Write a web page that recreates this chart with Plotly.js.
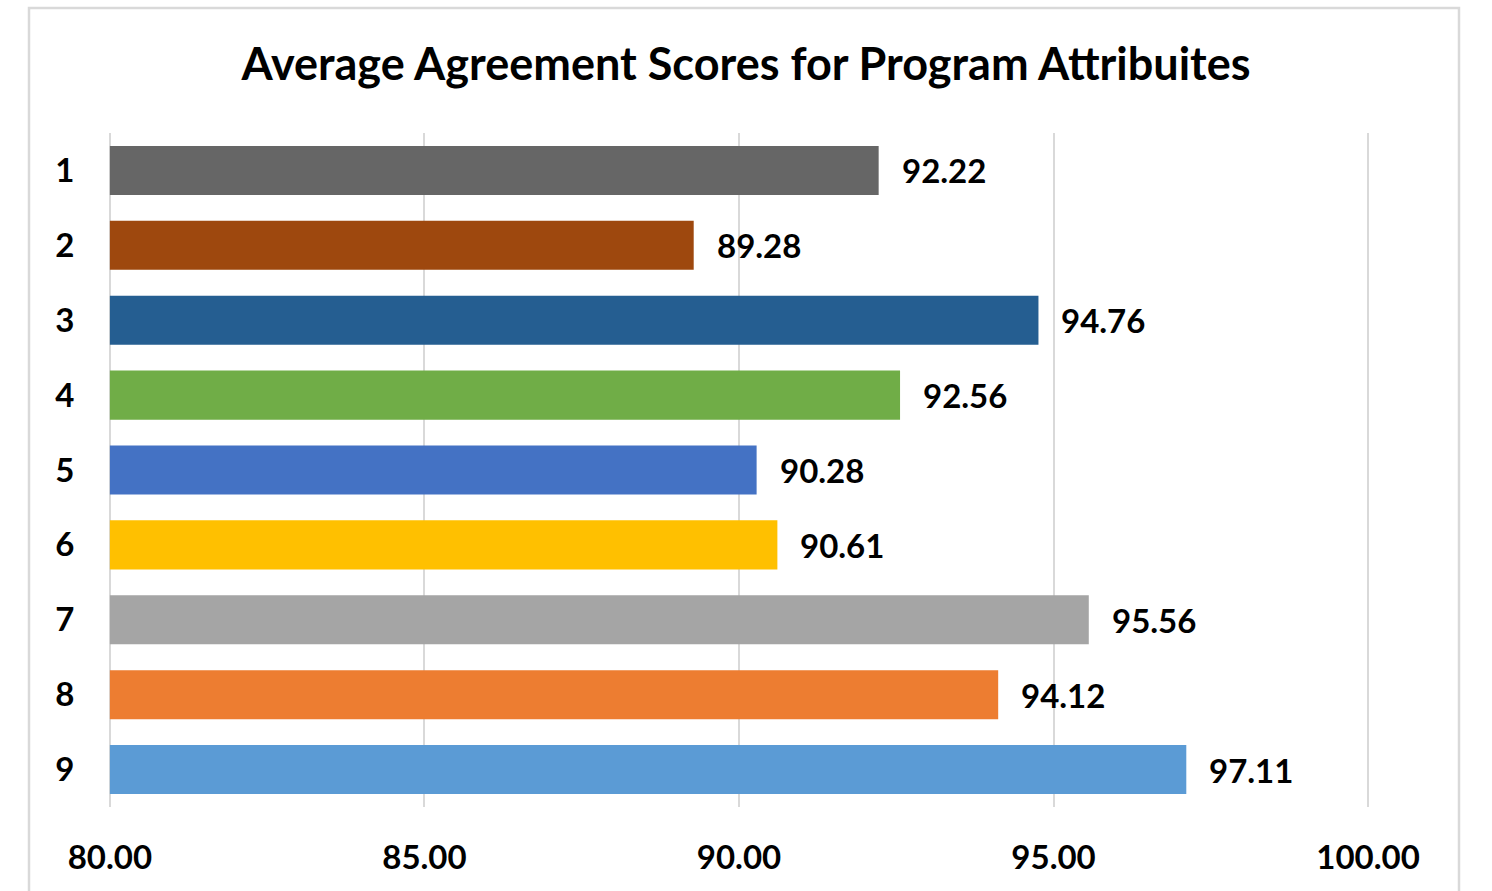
<!DOCTYPE html>
<html>
<head>
<meta charset="utf-8">
<script src="https://cdn.plot.ly/plotly-3.0.1.min.js"></script>
<style>html,body{margin:0;padding:0;background:#fff;}#chart{width:1492px;height:891px;}</style>
</head>
<body>
<div id="chart"></div>
<script>
const categories = ['1','2','3','4','5','6','7','8','9'];
const scores = [92.22, 89.28, 94.76, 92.56, 90.28, 90.61, 95.56, 94.12, 97.11];
const barColors = ['#666666','#9E480E','#255E91','#70AD47','#4472C4','#FFC000','#A5A5A5','#ED7D31','#5B9BD5'];
const xTickVals = [80, 85, 90, 95, 100];
const xTickText = ['80.00','85.00','90.00','95.00','100.00'];
const titleText = 'Average Agreement Scores for Program Attribuites';
const axisMin = 80;

const FONT = 'Lato, "Open Sans", sans-serif';

const trace = {
  type: 'bar',
  orientation: 'h',
  y: categories,
  x: scores.map(v => v - axisMin),
  base: axisMin,
  marker: {color: barColors},
  hoverinfo: 'skip',
  width: 0.655
};

const annotations = scores.map((v, i) => ({
  x: v, y: i, xref: 'x', yref: 'y',
  text: v.toFixed(2), showarrow: false,
  xanchor: 'left', yanchor: 'middle', xshift: 21, yshift: 0,
  font: {family: FONT, size: 33, color: '#000', weight: 700}
}));

const layout = {
  width: 1492, height: 891,
  margin: {l: 108, r: 122, t: 133, b: 84},
  paper_bgcolor: '#fff', plot_bgcolor: '#fff',
  showlegend: false,
  title: {
    text: titleText, x: 0.5, xref: 'container', xanchor: 'center',
    y: 1 - 64/891, yref: 'container', yanchor: 'middle',
    font: {family: FONT, size: 45, color: '#000', weight: 700}
  },
  xaxis: {
    range: [79.97, 100.03],
    tickvals: xTickVals, ticktext: xTickText,
    showgrid: true, gridcolor: '#D9D9D9', gridwidth: 2,
    zeroline: false, showline: false,
    ticks: 'outside', ticklen: 21, tickcolor: 'rgba(0,0,0,0)',
    tickfont: {family: FONT, size: 33, color: '#000', weight: 700},
    fixedrange: true
  },
  yaxis: {
    type: 'category', categoryorder: 'array', categoryarray: categories,
    range: [8.5, -0.5], autorange: false,
    showgrid: false, zeroline: false, showline: false,
    ticks: 'outside', ticklen: 26, tickcolor: 'rgba(0,0,0,0)',
    tickfont: {family: FONT, size: 33, color: '#000', weight: 700},
    fixedrange: true
  },
  annotations: annotations,
  shapes: [{
    type: 'rect', xref: 'paper', yref: 'paper',
    x0: (29 - 108) / 1262, x1: (1459 - 108) / 1262,
    y0: (807 - 900) / 674, y1: (807 - 8) / 674,
    line: {color: '#D9D9D9', width: 2.5}, fillcolor: 'rgba(0,0,0,0)', layer: 'below'
  }]
};

Plotly.newPlot('chart', [trace], layout, {displayModeBar: false, staticPlot: true});
</script>
</body>
</html>
